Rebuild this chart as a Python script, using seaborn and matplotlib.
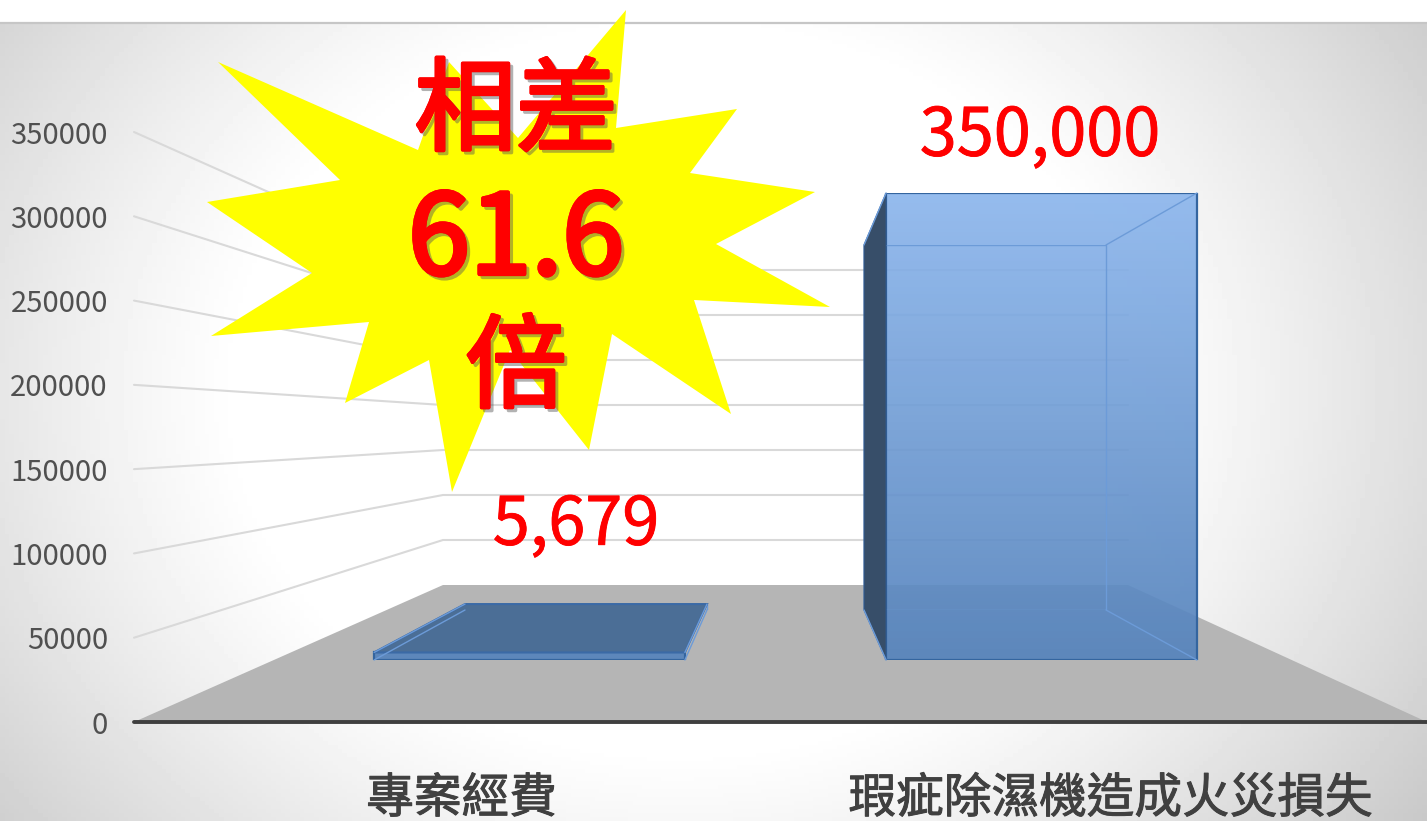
import numpy as np
import matplotlib
matplotlib.use("Agg")
import matplotlib.pyplot as plt
import matplotlib.patheffects as pe
from matplotlib.colors import LinearSegmentedColormap
from matplotlib.patches import Polygon
import seaborn as sns

sns.set_theme(style="white")
plt.rcParams["font.family"] = ["Noto Sans CJK TC", "DejaVu Sans"]

W, H = 1427, 821

categories = ["專案經費", "瑕疵除濕機造成火災損失"]
values = [5679, 350000]
value_labels = ["5,679", "350,000"]
y_ticks = [0, 50000, 100000, 150000, 200000, 250000, 300000, 350000]
callout_lines = ["相差", "61.6", "倍"]

# outline of the starburst, in pixels
star = [(626, 10), (616, 128), (737, 109), (690, 173), (815, 192), (716, 244),
        (830, 307), (694, 300), (731, 414), (612, 334), (589, 450), (510, 350),
        (452, 492), (429, 360), (345, 403), (369, 322), (211, 336), (312, 273),
        (207, 202), (340, 180), (218, 62), (418, 150), (449, 62), (518, 138)]


def add_axes_px(fig, left, right, top, bottom, zorder):
    a = fig.add_axes([left / W, 1 - bottom / H, (right - left) / W, (bottom - top) / H])
    a.set_zorder(zorder)
    a.patch.set_alpha(0)
    return a


def to_px(a, x, y):
    dx, dy = a.transData.transform((x, y))
    return dx, H - dy


def value_bars(a, width, edge, lw):
    sns.barplot(x=categories, y=values, ax=a, width=width, saturation=1,
                facecolor="none", edgecolor=edge, linewidth=lw)
    a.set_xlim(-0.5, 1.5)
    a.set_ylim(0, 350000)
    a.axis("off")


fig = plt.figure(figsize=(W / 100, H / 100), dpi=100, facecolor="white")

# pixel layer: background, floor, walls
bg = add_axes_px(fig, 0, W, 0, H, 0)
bg.set_xlim(0, W)
bg.set_ylim(H, 0)
bg.axis("off")

xx, yy = np.meshgrid(np.linspace(0, W, 300), np.linspace(24, H, 200))
r = np.sqrt(((xx - 680) / 880) ** 2 + ((yy - 390) / 720) ** 2)
shade = 1 - 0.25 * np.clip((r - 0.5) / 0.62, 0, 1) ** 1.15
bg.imshow(shade, extent=(0, W, H, 24), cmap="gray", vmin=0, vmax=1, aspect="auto", zorder=0)
bg.set_xlim(0, W)
bg.set_ylim(H, 0)
bg.plot([0, W], [23, 23], color="#c6c6c6", lw=1.6, zorder=1)

# value scales: side of wall at the front, back wall
ax_y = add_axes_px(fig, 137, 1435, 132, 722, 1)
ax_wall = add_axes_px(fig, 443, 1128, 270, 585, 1)
for a in (ax_y, ax_wall):
    a.set_ylim(0, 350000)
    a.set_xlim(-0.5, 1.5)
    for s in a.spines.values():
        s.set_visible(False)

ax_y.set_yticks(y_ticks)
ax_y.set_yticklabels([str(t) for t in y_ticks], fontsize=21, color="#505050")
ax_y.set_xticks([0, 1])
ax_y.set_xticklabels(categories, fontsize=34.3, color="#404040",
                     path_effects=[pe.withStroke(linewidth=0.7, foreground="#404040")])
ax_y.tick_params(axis="y", length=0, pad=21)
ax_y.tick_params(axis="x", length=0, pad=37.5)
ax_wall.set_xticks([])
ax_wall.set_yticks([])

bg.add_patch(Polygon([(134, 722), (443, 585), (1128, 585), (1427, 722)],
                     facecolor="#b5b5b5", edgecolor="none", zorder=2))
for t in y_ticks[1:]:
    x0, y0 = 134, to_px(ax_y, 0, t)[1]
    x1, y1 = 443, to_px(ax_wall, 0, t)[1]
    bg.plot([x0, x1, 1128], [y0, y1, y1], color="#d9d9d9", lw=1.5, zorder=2)
bg.plot([134, W], [722.5, 722.5], color="#3f3f3f", lw=2.8, zorder=3, solid_capstyle="round")

# bars: front faces, with the back frame and solid sides over them
ax_front = add_axes_px(fig, 273.5, 1297.5, 193, 660, 2)
value_bars(ax_front, 0.607, "#34659f", 1.6)

ax_back = add_axes_px(fig, 386.5, 1184.5, 245, 610, 3)
value_bars(ax_back, 0.6065, "#6c9bd8", 1.0)

ax_side = add_axes_px(fig, 0, W, 0, H, 4)
ax_side.set_xlim(0, W)
ax_side.set_ylim(H, 0)
ax_side.axis("off")

for bf, bb in zip(ax_front.patches, ax_back.patches):
    f0, f1 = bf.get_x(), bf.get_x() + bf.get_width()
    b0, b1 = bb.get_x(), bb.get_x() + bb.get_width()
    v = bf.get_height()
    fl_b, fl_t = to_px(ax_front, f0, 0), to_px(ax_front, f0, v)
    fr_b, fr_t = to_px(ax_front, f1, 0), to_px(ax_front, f1, v)
    bl_b, bl_t = to_px(ax_back, b0, 0), to_px(ax_back, b0, v)
    br_b, br_t = to_px(ax_back, b1, 0), to_px(ax_back, b1, v)

    # depth edges
    for p, q in [(fl_t, bl_t), (fr_t, br_t), (fl_b, bl_b), (fr_b, br_b)]:
        ax_side.plot([p[0], q[0]], [p[1], q[1]], color="#6c9bd8", lw=1.0, zorder=4)

    # left side is only seen when the back sits left of the front
    if bl_b[0] < fl_b[0]:
        ax_side.add_patch(Polygon([bl_b, bl_t, fl_t, fl_b], facecolor="#374e69",
                                  edgecolor="#2f5a90", lw=0.8, zorder=3))
    # lid is only seen when the back top sits above the front top
    if bl_t[1] < fl_t[1]:
        ax_side.add_patch(Polygon([fl_t, bl_t, br_t, fr_t], facecolor="#4b6e96",
                                  edgecolor="#3b6aa6", lw=1.5, zorder=3))

grad = LinearSegmentedColormap.from_list("barfill", ["#5583bc", "#8cb6ed"])
for bf in ax_front.patches:
    x0, x1 = bf.get_x(), bf.get_x() + bf.get_width()
    im = ax_front.imshow(np.linspace(1, 0, 128).reshape(-1, 1), extent=(x0, x1, 0, 350000),
                         cmap=grad, vmin=0, vmax=1, aspect="auto", alpha=0.92, zorder=0)
    im.set_clip_path(bf)
ax_front.set_xlim(-0.5, 1.5)
ax_front.set_ylim(0, 350000)

# value labels
ax_top = add_axes_px(fig, 0, W, 0, H, 5)
ax_top.set_xlim(0, W)
ax_top.set_ylim(H, 0)
ax_top.axis("off")
heavy = [pe.withStroke(linewidth=0.6, foreground="#ff0000")]
ax_top.text(576, 526, value_labels[0], color="#ff0000", fontsize=48, ha="center", va="center", path_effects=heavy)
ax_top.text(1040, 137, value_labels[1], color="#ff0000", fontsize=48, ha="center", va="center", path_effects=heavy)

# callout
ax_top.add_patch(Polygon(star, closed=True, facecolor="#ffff00", edgecolor="none", zorder=1))
for line, yc, fs, sw in zip(callout_lines, [113, 242, 370], [73, 80, 73], [2.4, 3.0, 2.4]):
    shadow = [pe.withStroke(linewidth=sw, foreground="#ff0000"),
              pe.SimpleLineShadow(offset=(2.2, -2.2), shadow_color="#555555", alpha=0.45, linewidth=sw),
              pe.withStroke(linewidth=sw, foreground="#ff0000"), pe.Normal()]
    ax_top.text(516, yc, line, color="#ff0000", fontsize=fs,
                ha="center", va="center", zorder=2, path_effects=shadow)

fig.savefig("out.png", dpi=100)
